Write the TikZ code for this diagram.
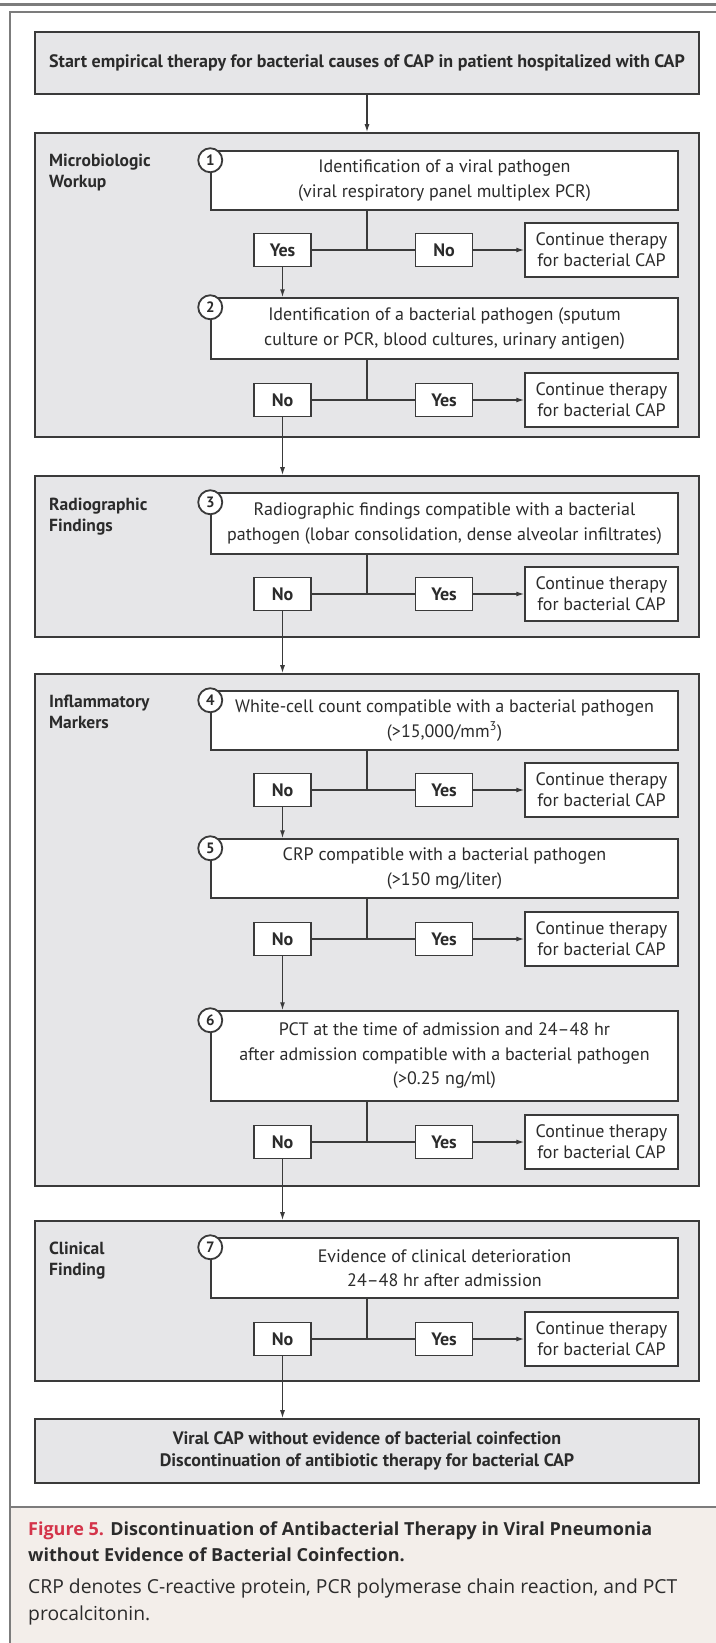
\documentclass[tikz,border=0pt]{standalone}
\usepackage{fontspec}
\setmainfont{PT Sans}
\newfontfamily\legendefont[Ligatures=TeX]{Open Sans}
\usetikzlibrary{arrows.meta}

\definecolor{panelgrau}{HTML}{E6E6E8}
\definecolor{liniengrau}{HTML}{3A3A3A}
\definecolor{rahmengrau}{HTML}{7C7C7C}
\definecolor{legendegrund}{HTML}{F3EEEA}
\definecolor{figrot}{HTML}{D4344A}
\definecolor{textgrau}{HTML}{2B2B2B}

\tikzset{
  panel/.style={draw=liniengrau, fill=panelgrau, line width=1.6pt, minimum width=664pt, inner sep=0pt},
  frage/.style={draw=liniengrau, fill=white, line width=1.5pt, minimum width=467pt, inner sep=0pt,
    align=center, text=textgrau, font=\fontsize{18}{24.5}\selectfont},
  wahl/.style={draw=liniengrau, fill=white, line width=1.5pt, minimum width=57pt, minimum height=33pt,
    inner sep=0pt, text=textgrau, font=\fontsize{18}{20}\selectfont\bfseries},
  weiter/.style={draw=liniengrau, fill=white, line width=1.5pt, minimum width=153pt, minimum height=54pt,
    inner sep=0pt, align=center, text=textgrau, font=\fontsize{18}{21}\selectfont},
  nummer/.style={circle, draw=liniengrau, fill=white, line width=1.8pt, minimum size=24pt, inner sep=0pt,
    text=textgrau, font=\fontsize{15}{15}\selectfont\bfseries},
  gruppe/.style={anchor=north west, align=left, inner sep=0pt, text=textgrau,
    font=\fontsize{17.5}{21}\selectfont\bfseries},
  linie/.style={draw=liniengrau, line width=1.3pt},
  pfeil/.style={linie, -{Latex[length=8pt,width=5pt]}},
}

\begin{document}
\begin{tikzpicture}[x=1pt, y=-1pt]
	\useasboundingbox (0,0) rectangle (715,1643);

	% Rahmen und Legende
	\fill[legendegrund] (10,1507) rectangle (720,1650);
	\draw[rahmengrau, line width=3pt] (0,5) -- (720,5);
	\draw[rahmengrau, line width=1.5pt] (10,1650) -- (10,12) -- (720,12);
	\draw[rahmengrau, line width=1.5pt] (10,1507) -- (720,1507);

	% Startkasten
	\node[panel, minimum height=62pt, text=textgrau, font=\fontsize{18}{22}\selectfont\bfseries] (start) at (367,63)
		{Start empirical therapy for bacterial causes of CAP in patient hospitalized with CAP};

	% Gruppen
	\node[panel, minimum height=304pt] (p1) at (367,285) {};
	\node[panel, minimum height=161pt] (p2) at (367,556.5) {};
	\node[panel, minimum height=512pt] (p3) at (367,930) {};
	\node[panel, minimum height=160pt] (p4) at (367,1301) {};
	\node[gruppe] (g1) at (49,154) {Microbiologic\\Workup};
	\node[gruppe] (g2) at (49,498) {Radiographic\\Findings};
	\node[gruppe] (g3) at (49,695) {Inflammatory\\Markers};
	\node[gruppe] (g4) at (49,1242) {Clinical\\Finding};
	\draw[pfeil] (start) -- (p1);

	% Fragen
	\node[frage, minimum height=59pt] (q1) at (444.5,180.5)
		{Identification of a viral pathogen\\(viral respiratory panel multiplex PCR)};
	\node[frage, minimum height=61pt] (q2) at (444.5,328.5)
		{Identification of a bacterial pathogen (sputum\\culture or PCR, blood cultures, urinary antigen)};
	\node[frage, minimum height=61pt] (q3) at (444.5,523.5)
		{Radiographic findings compatible with a bacterial\\pathogen (lobar consolidation, dense alveolar infiltrates)};
	\node[frage, minimum height=59pt] (q4) at (444.5,720.5)
		{White-cell count compatible with a bacterial pathogen\\(>15,000/mm\textsuperscript{3})};
	\node[frage, minimum height=59pt] (q5) at (444.5,868.5)
		{CRP compatible with a bacterial pathogen\\(>150 mg/liter)};
	\node[frage, minimum height=90pt] (q6) at (444.5,1056)
		{PCT at the time of admission and 24--48 hr\\after admission compatible with a bacterial pathogen\\(>0.25 ng/ml)};
	\node[frage, minimum height=60pt] (q7) at (444.5,1268)
		{Evidence of clinical deterioration\\24--48 hr after admission};

	% Nummern
	\node[nummer] (n1) at ([yshift=-10pt]q1.north west) {1};
	\node[nummer] (n2) at ([yshift=-10pt]q2.north west) {2};
	\node[nummer] (n3) at ([yshift=-10pt]q3.north west) {3};
	\node[nummer] (n4) at ([yshift=-10pt]q4.north west) {4};
	\node[nummer] (n5) at ([yshift=-10pt]q5.north west) {5};
	\node[nummer] (n6) at ([yshift=-10pt]q6.north west) {6};
	\node[nummer] (n7) at ([yshift=-10pt]q7.north west) {7};

	% Endkasten
	\node[panel, minimum height=64pt, align=center, text=textgrau, font=\fontsize{18}{22}\selectfont\bfseries] (ende) at (367,1451)
		{Viral CAP without evidence of bacterial coinfection\\Discontinuation of antibiotic therapy for bacterial CAP};

	% Zeile 1
	\coordinate (j1) at (367,250);
	\node[wahl] (links1) at (282.5,250) {Yes};
	\node[wahl] (rechts1) at (444,250) {No};
	\node[weiter] (w1) at (601.5,250) {Continue therapy\\for bacterial CAP};
	\draw[linie] (q1.south -| j1) -- (j1);
	\draw[linie] (links1) -- (rechts1);
	\draw[pfeil] (rechts1) -- (w1);
	\draw[pfeil] (links1) -- (links1 |- q2.north);

	% Zeile 2
	\coordinate (j2) at (367,400);
	\node[wahl] (links2) at (282.5,400) {No};
	\node[wahl] (rechts2) at (444,400) {Yes};
	\node[weiter] (w2) at (601.5,400) {Continue therapy\\for bacterial CAP};
	\draw[linie] (q2.south -| j2) -- (j2);
	\draw[linie] (links2) -- (rechts2);
	\draw[pfeil] (rechts2) -- (w2);
	\draw[pfeil] (links2) -- (links2 |- p2.north);

	% Zeile 3
	\coordinate (j3) at (367,594);
	\node[wahl] (links3) at (282.5,594) {No};
	\node[wahl] (rechts3) at (444,594) {Yes};
	\node[weiter] (w3) at (601.5,594) {Continue therapy\\for bacterial CAP};
	\draw[linie] (q3.south -| j3) -- (j3);
	\draw[linie] (links3) -- (rechts3);
	\draw[pfeil] (rechts3) -- (w3);
	\draw[pfeil] (links3) -- (links3 |- p3.north);

	% Zeile 4
	\coordinate (j4) at (367,790);
	\node[wahl] (links4) at (282.5,790) {No};
	\node[wahl] (rechts4) at (444,790) {Yes};
	\node[weiter] (w4) at (601.5,790) {Continue therapy\\for bacterial CAP};
	\draw[linie] (q4.south -| j4) -- (j4);
	\draw[linie] (links4) -- (rechts4);
	\draw[pfeil] (rechts4) -- (w4);
	\draw[pfeil] (links4) -- (links4 |- q5.north);

	% Zeile 5
	\coordinate (j5) at (367,939);
	\node[wahl] (links5) at (282.5,939) {No};
	\node[wahl] (rechts5) at (444,939) {Yes};
	\node[weiter] (w5) at (601.5,939) {Continue therapy\\for bacterial CAP};
	\draw[linie] (q5.south -| j5) -- (j5);
	\draw[linie] (links5) -- (rechts5);
	\draw[pfeil] (rechts5) -- (w5);
	\draw[pfeil] (links5) -- (links5 |- q6.north);

	% Zeile 6
	\coordinate (j6) at (367,1142);
	\node[wahl] (links6) at (282.5,1142) {No};
	\node[wahl] (rechts6) at (444,1142) {Yes};
	\node[weiter] (w6) at (601.5,1142) {Continue therapy\\for bacterial CAP};
	\draw[linie] (q6.south -| j6) -- (j6);
	\draw[linie] (links6) -- (rechts6);
	\draw[pfeil] (rechts6) -- (w6);
	\draw[pfeil] (links6) -- (links6 |- p4.north);

	% Zeile 7
	\coordinate (j7) at (367,1339);
	\node[wahl] (links7) at (282.5,1339) {No};
	\node[wahl] (rechts7) at (444,1339) {Yes};
	\node[weiter] (w7) at (601.5,1339) {Continue therapy\\for bacterial CAP};
	\draw[linie] (q7.south -| j7) -- (j7);
	\draw[linie] (links7) -- (rechts7);
	\draw[pfeil] (rechts7) -- (w7);
	\draw[pfeil] (links7) -- (links7 |- ende.north);

	% Legende
	\node[anchor=north west, align=left, inner sep=0pt, text=textgrau, font=\legendefont\fontsize{18}{26}\selectfont\bfseries] (titel) at (28,1522)
		{\textcolor{figrot}{Figure 5.} Discontinuation of Antibacterial Therapy in Viral Pneumonia\\without Evidence of Bacterial Coinfection.};
	\node[anchor=north west, align=left, inner sep=0pt, text=textgrau, font=\legendefont\fontsize{19.3}{26.5}\selectfont] (text) at (28,1579)
		{CRP denotes C-reactive protein, PCR polymerase chain reaction, and PCT\\procalcitonin.};
\end{tikzpicture}
\end{document}
